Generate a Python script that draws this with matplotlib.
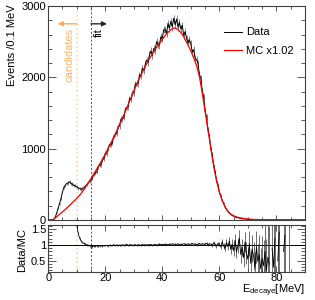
import numpy as np
import matplotlib
matplotlib.use('Agg')
import matplotlib.pyplot as plt
from matplotlib.ticker import MultipleLocator, FuncFormatter

plt.rcParams['font.family'] = ['Liberation Sans', 'DejaVu Sans']
plt.rcParams['mathtext.fontset'] = 'custom'
plt.rcParams['mathtext.rm'] = 'Liberation Sans'
plt.rcParams['mathtext.it'] = 'Liberation Sans'

# energy grid, 0.5 MeV steps (values are per 0.1 MeV)
energy = np.linspace(0, 90, 181)

mc = [
    0, 0, 0, 2, 10, 27, 45, 62, 80, 96,
    112, 128, 145, 165, 185, 205, 225, 243, 262, 281,
    300, 322, 345, 370, 395, 425, 455, 485, 515, 547,
    580, 612, 645, 678, 712, 746, 780, 815, 850, 886,
    922, 961, 1000, 1040, 1080, 1121, 1163, 1205, 1248, 1291,
    1335, 1380, 1425, 1471, 1518, 1566, 1614, 1662, 1710, 1758,
    1805, 1852, 1898, 1943, 1987, 2030, 2072, 2112, 2152, 2190,
    2227, 2262, 2297, 2330, 2361, 2391, 2420, 2448, 2474, 2500,
    2530, 2558, 2585, 2608, 2630, 2650, 2668, 2680, 2690, 2690,
    2682, 2668, 2650, 2627, 2600, 2568, 2530, 2494, 2455, 2414,
    2370, 2323, 2275, 2222, 2165, 2092, 2010, 1900, 1780, 1650,
    1520, 1388, 1255, 1127, 1000, 878, 760, 652, 555, 470,
    395, 332, 275, 228, 185, 150, 122, 100, 82, 69,
    58, 49, 42, 36, 31, 27, 23, 20, 17, 14,
    12, 10, 9, 8, 7, 6, 5, 5, 4, 4,
    3, 3, 2, 2, 2, 2, 2, 2, 2, 2,
    1, 1, 1, 1, 1, 1, 1, 1, 1, 1,
    1, 1, 1, 1, 1, 1, 1, 1, 1, 1,
    1,
]

data = [
    0, 0, 0, 0, 12, 40, 100, 165, 228, 300,
    392, 458, 488, 512, 518, 534, 508, 503, 482, 478,
    462, 447, 444, 430, 441, 450, 474, 491, 522, 536,
    568, 582, 644, 655, 671, 739, 765, 773, 847, 853,
    933, 926, 1000, 1060, 1054, 1080, 1176, 1198, 1207, 1310,
    1315, 1415, 1415, 1433, 1546, 1578, 1584, 1702, 1692, 1780,
    1779, 1903, 1917, 1913, 2035, 2018, 2127, 2093, 2178, 2241,
    2209, 2315, 2370, 2308, 2405, 2380, 2499, 2462, 2451, 2570,
    2543, 2667, 2670, 2618, 2756, 2686, 2785, 2707, 2827, 2737,
    2817, 2703, 2770, 2676, 2728, 2590, 2641, 2549, 2484, 2526,
    2471, 2353, 2388, 2264, 2250, 2195, 2040, 1992, 1813, 1730,
    1530, 1446, 1265, 1175, 1002, 916, 763, 680, 556, 491,
    385, 338, 268, 230, 178, 150, 116, 100, 76, 66,
    54, 42, 38, 31, 27, 23, 19, 17, 14, 12,
    7, 6, 5, 5, 4, 4, 3, 3, 2, 2,
    2, 1, 1, 1, 1, 1, 1, 1, 0, 1,
    0, 1, 0, 0, 1, 0, 0, 0, 0, 0,
    0, 0, 0, 0, 0, 0, 0, 0, 0, 0,
    0,
]

# Data/MC ratio, from 10 MeV on
ratio_energy = np.linspace(10, 90, 161)
nan = np.nan
ratio = [
    1.66, 1.38, 1.22, 1.13, 1.08, 1.05, 1.03, 1.01, 0.99, 0.98,
    0.97, 0.95, 0.97, 0.96, 0.98, 0.96, 0.97, 0.99, 0.96, 0.98,
    0.98, 0.99, 0.97, 1.00, 0.98, 0.99, 1.01, 0.98, 1.00, 0.99,
    1.00, 0.98, 1.01, 0.99, 1.00, 1.02, 0.99, 1.00, 1.01, 0.99,
    1.00, 1.01, 0.99, 1.01, 1.00, 0.99, 1.02, 1.00, 1.01, 1.00,
    1.01, 1.00, 1.02, 0.99, 1.01, 1.02, 1.00, 1.01, 1.03, 1.01,
    1.02, 1.01, 1.03, 1.02, 1.01, 1.03, 1.02, 1.04, 1.02, 1.03,
    1.02, 1.04, 1.01, 1.03, 1.02, 1.04, 1.03, 1.01, 1.04, 1.02,
    1.03, 1.05, 1.02, 1.04, 1.01, 1.03, 1.05, 1.02, 1.04, 1.03,
    1.02, 1.06, 1.00, 1.04, 1.03, 0.98, 1.07, 1.01, 0.97, 1.05,
    1.02, 0.94, 1.10, 0.97, 0.90, 1.08, 0.95, 1.12, 0.86, 1.03,
    0.82, 1.15, 0.78, 0.98, 1.22, 0.70, 0.92, 0.60, 1.10, 0.75,
    0.55, 1.05, 0.42, 0.88, 0.65, 0.30, 0.95, 0.48, 0.70, 0.25,
    0.58, 0.35, 0.80, 0.20, 0.62, 0.40, nan, 0.90, 0.30, 1.20,
    nan, 0.50, 1.40, nan, nan, 0.80, 1.30, nan, nan, 1.10,
    nan, nan, nan, nan, nan, nan, nan, nan, nan, nan,
    nan,
]
ratio_err = [
    0.04, 0.04, 0.035, 0.03, 0.03, 0.03, 0.03, 0.03, 0.03, 0.03,
    0.03, 0.03, 0.028, 0.028, 0.027, 0.027, 0.026, 0.026, 0.025, 0.025,
    0.025, 0.024, 0.024, 0.023, 0.023, 0.022, 0.022, 0.022, 0.021, 0.021,
    0.021, 0.02, 0.02, 0.02, 0.02, 0.02, 0.02, 0.02, 0.02, 0.02,
    0.02, 0.02, 0.02, 0.02, 0.02, 0.02, 0.02, 0.02, 0.02, 0.02,
    0.02, 0.02, 0.02, 0.02, 0.02, 0.02, 0.02, 0.02, 0.02, 0.02,
    0.02, 0.02, 0.02, 0.02, 0.02, 0.02, 0.02, 0.02, 0.02, 0.02,
    0.02, 0.02, 0.02, 0.02, 0.02, 0.02, 0.02, 0.021, 0.021, 0.022,
    0.022, 0.023, 0.023, 0.024, 0.025, 0.026, 0.027, 0.028, 0.029, 0.03,
    0.03, 0.032, 0.034, 0.036, 0.038, 0.04, 0.045, 0.05, 0.055, 0.06,
    0.065, 0.07, 0.08, 0.09, 0.1, 0.11, 0.12, 0.13, 0.14, 0.16,
    0.17, 0.19, 0.2, 0.22, 0.24, 0.26, 0.28, 0.3, 0.32, 0.34,
    0.35, 0.38, 0.4, 0.42, 0.45, 0.48, 0.5, 0.55, 0.6, 0.65,
    0.7, 0.8, 0.9, 1.0, 1.1, 1.2, 1.5, 1.5, 1.5, 1.5,
    1.5, 1.5, 1.5, 1.5, 1.5, 1.5, 1.5, 1.5, 1.5, 1.5,
    1.5, 1.5, 1.5, 1.5, 1.5, 1.5, 1.5, 1.5, 1.5, 1.5,
    1.5,
]

CUT_CAND = 10
CUT_FIT = 15
ORANGE = '#FFA64D'
ORANGE_LIGHT = '#FFD3A8'
FRAME = '0.25'

fig = plt.figure(figsize=(3.15, 3.0), dpi=100)
ax = fig.add_axes([0.153, 0.267, 0.815, 0.713])
axr = fig.add_axes([0.153, 0.092, 0.815, 0.158])

data = np.array(data, dtype=float)
ax.errorbar(energy, data, yerr=np.sqrt(data), fmt='none', ecolor='0.45',
            elinewidth=0.6, zorder=2)
ax.plot(energy, data, color='black', lw=0.7, label='Data', zorder=3)
ax.plot(energy, mc, color='#FF0000', lw=0.9, label='MC x1.02', zorder=4)

for a in (ax, axr):
    a.axvline(CUT_CAND, color=ORANGE_LIGHT, ls=':', lw=1.2, zorder=1)
    a.axvline(CUT_FIT, color='0.3', ls=(0, (2, 2)), lw=0.7, zorder=1)

ax.annotate('', xy=(3.4, 2750), xytext=(CUT_CAND, 2750),
            arrowprops=dict(arrowstyle='-|>', color=ORANGE, lw=1.0,
                            mutation_scale=7, shrinkA=0, shrinkB=0))
ax.text(7.6, 2313, 'candidates', rotation=90, color=ORANGE, fontsize=8,
        ha='center', va='center', alpha=0.85)
ax.annotate('', xy=(20.6, 2750), xytext=(CUT_FIT, 2750),
            arrowprops=dict(arrowstyle='-|>', color='0.15', lw=1.0,
                            mutation_scale=7, shrinkA=0, shrinkB=0))
ax.text(17.6, 2620, 'fit', rotation=90, color='black', fontsize=8,
        ha='center', va='center')

ax.legend(loc='upper left', bbox_to_anchor=(0.684, 0.9), frameon=False,
          fontsize=8, handlelength=1.6, handletextpad=0.4, labelspacing=0.8,
          borderpad=0, borderaxespad=0)

ax.set_xlim(0, 90)
ax.set_ylim(0, 3000)
ax.yaxis.set_major_locator(MultipleLocator(1000))
ax.yaxis.set_minor_locator(MultipleLocator(200))
ax.tick_params(labelbottom=False)

axr.errorbar(ratio_energy, ratio, yerr=ratio_err, fmt='-', color='black',
             lw=0.6, ecolor='0.2', elinewidth=0.5, zorder=3)
axr.axhline(1, color='black', lw=0.7, zorder=2)
axr.set_xlim(0, 90)
axr.set_ylim(0.14, 1.63)
axr.yaxis.set_major_locator(MultipleLocator(0.5))
axr.yaxis.set_minor_locator(MultipleLocator(0.1))
axr.yaxis.set_major_formatter(FuncFormatter(lambda v, p: f'{v:g}'))

for a in (ax, axr):
    a.xaxis.set_major_locator(MultipleLocator(20))
    a.xaxis.set_minor_locator(MultipleLocator(5))
    for s in a.spines.values():
        s.set_color(FRAME)
        s.set_linewidth(0.8)
    a.tick_params(which='both', direction='in', top=True, right=True,
                  color=FRAME, width=0.6, labelsize=8, pad=1.5)
    a.tick_params(axis='y', which='major', length=6)
    a.tick_params(axis='y', which='minor', length=3)

ax.tick_params(axis='x', which='major', length=3.5)
ax.tick_params(axis='x', which='minor', length=2)
axr.tick_params(axis='x', which='major', length=4.3, pad=0.5)
axr.tick_params(axis='x', which='minor', length=2)

fig.text(0.038, 0.985, 'Events /0.1 MeV', rotation=90, ha='center', va='top',
         fontsize=8)
fig.text(0.07, 0.167, 'Data/MC', rotation=90, ha='center', va='center',
         fontsize=8)
fig.text(0.968, 0.024, r'E$_{\rm decaye}$[MeV]', ha='right', va='baseline',
         fontsize=8)

fig.savefig('out.png', dpi=100, facecolor='white')
